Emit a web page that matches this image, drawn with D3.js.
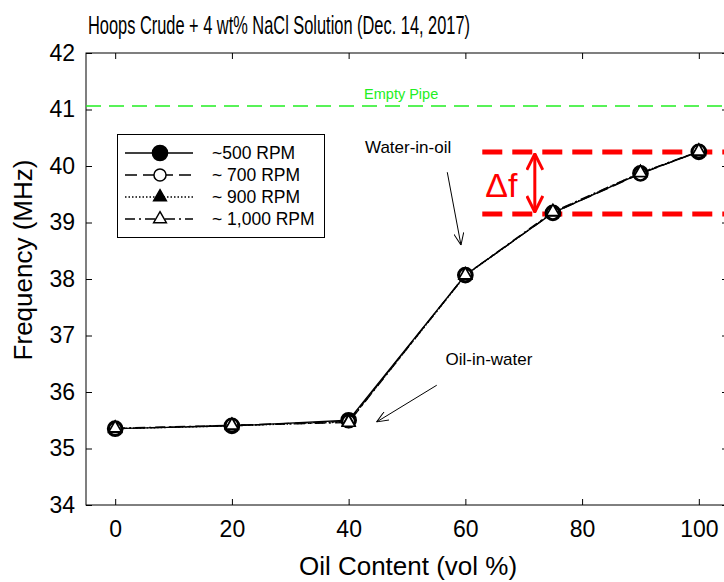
<!DOCTYPE html>
<html>
<head>
<meta charset="utf-8">
<script src="https://cdn.jsdelivr.net/npm/d3@7"></script>
<style>
  body { margin: 0; background: #fff; }
  svg { font-family: Arial, "Liberation Sans", sans-serif; }
</style>
</head>
<body>
<div id="chart"></div>
<script>
// data
const oilContent = [0, 20, 40, 60, 75, 90, 100];
const rpm500 = [35.35, 35.40, 35.50, 38.07, 39.17, 39.87, 40.25];
const rpm700 = [35.35, 35.41, 35.48, 38.07, 39.17, 39.86, 40.26];
const rpm900 = [35.35, 35.40, 35.47, 38.06, 39.18, 39.88, 40.25];
const rpm1000 = [35.36, 35.41, 35.46, 38.07, 39.19, 39.88, 40.26];
const seriesNames = ["~500 RPM", "~ 700 RPM", "~ 900 RPM", "~ 1,000 RPM"];
const xTicks = [0, 20, 40, 60, 80, 100];
const yTicks = [34, 35, 36, 37, 38, 39, 40, 41, 42];
const emptyPipe = 41.06;
const deltaTop = 40.25;
const deltaBottom = 39.15;

const svgWidth = 724, svgHeight = 582;
const margin = { top: 53, right: -4, bottom: 77, left: 86 };
const width = svgWidth - margin.right;
const height = svgHeight - margin.bottom;

const svg = d3.select("#chart")
    .append("svg")
    .attr("width", svgWidth)
    .attr("height", svgHeight);

const defs = svg.append("defs");
defs.append("marker")
    .attr("id", "vhead")
    .attr("viewBox", "0 0 12 10")
    .attr("refX", 12).attr("refY", 5)
    .attr("markerWidth", 12).attr("markerHeight", 10)
    .attr("markerUnits", "userSpaceOnUse")
    .attr("orient", "auto")
    .append("path")
    .attr("d", "M0,0 L12,5 L0,10")
    .attr("fill", "none").attr("stroke", "#000").attr("stroke-width", 1);
defs.append("marker")
    .attr("id", "redhead")
    .attr("viewBox", "0 0 18 18")
    .attr("refX", 17).attr("refY", 9)
    .attr("markerWidth", 18).attr("markerHeight", 18)
    .attr("markerUnits", "userSpaceOnUse")
    .attr("orient", "auto-start-reverse")
    .append("path")
    .attr("d", "M1,1 L17,9 L1,17")
    .attr("fill", "none").attr("stroke", "red").attr("stroke-width", 3);

const x = d3.scaleLinear().domain([-5, 105]).range([margin.left, width]);
const y = d3.scaleLinear().domain([34, 42]).range([height, margin.top]);

// frame
svg.append("rect")
    .attr("x", margin.left).attr("y", margin.top)
    .attr("width", width - margin.left).attr("height", height - margin.top)
    .attr("fill", "none").attr("stroke", "#000").attr("stroke-width", 1);

// axes with inward ticks
const styleAxis = g => {
    g.select(".domain").remove();
    g.selectAll(".tick line").attr("stroke", "#000");
    g.selectAll(".tick text").attr("font-size", 23).attr("fill", "#000")
        .attr("font-family", "Arial, 'Liberation Sans', sans-serif");
};
svg.append("g").attr("transform", `translate(0,${height})`)
    .call(d3.axisBottom(x).tickValues(xTicks).tickSizeInner(-6).tickPadding(16))
    .call(styleAxis);
svg.append("g").attr("transform", `translate(0,${margin.top})`)
    .call(d3.axisTop(x).tickValues(xTicks).tickSizeInner(-6).tickFormat(""))
    .call(styleAxis);
svg.append("g").attr("transform", `translate(${margin.left},0)`)
    .call(d3.axisLeft(y).tickValues(yTicks).tickSizeInner(-6).tickPadding(11))
    .call(styleAxis);
svg.append("g").attr("transform", `translate(${width},0)`)
    .call(d3.axisRight(y).tickValues(yTicks).tickSizeInner(-6).tickFormat(""))
    .call(styleAxis);

// title and axis labels
svg.append("text")
    .attr("x", 88).attr("y", 34)
    .attr("font-size", 25)
    .attr("textLength", 382).attr("lengthAdjust", "spacingAndGlyphs")
    .text("Hoops Crude + 4 wt% NaCl Solution (Dec. 14, 2017)");
svg.append("text")
    .attr("x", 408).attr("y", 575)
    .attr("text-anchor", "middle").attr("font-size", 26)
    .text("Oil Content (vol %)");
svg.append("text")
    .attr("transform", `translate(32,260) rotate(-90)`)
    .attr("text-anchor", "middle").attr("font-size", 26)
    .text("Frequency (MHz)");

// empty pipe reference
svg.append("line")
    .attr("x1", x(-5)).attr("x2", x(105))
    .attr("y1", y(emptyPipe)).attr("y2", y(emptyPipe))
    .attr("stroke", "#22ee22").attr("stroke-width", 1.5)
    .attr("stroke-dasharray", "15,8");
svg.append("text")
    .attr("x", x(49)).attr("y", y(41.19))
    .attr("text-anchor", "middle").attr("font-size", 14.5).attr("fill", "#22ee22")
    .text("Empty Pipe");

// delta f annotation
[deltaTop, deltaBottom].forEach(v => {
    svg.append("line")
        .attr("x1", x(62.9)).attr("x2", x(105))
        .attr("y1", y(v)).attr("y2", y(v))
        .attr("stroke", "red").attr("stroke-width", 5)
        .attr("stroke-dasharray", "20,10");
});
svg.append("line")
    .attr("x1", x(71.9)).attr("x2", x(71.9))
    .attr("y1", y(deltaTop) + 2).attr("y2", y(deltaBottom) - 2)
    .attr("stroke", "red").attr("stroke-width", 3)
    .attr("marker-start", "url(#redhead)")
    .attr("marker-end", "url(#redhead)");
svg.append("text")
    .attr("x", x(63.4)).attr("y", y(39.45))
    .attr("font-size", 34).attr("fill", "red")
    .text("\u0394f");

// regime annotations
svg.append("text")
    .attr("x", x(42.8)).attr("y", y(40.23))
    .attr("font-size", 17).text("Water-in-oil");
svg.append("line")
    .attr("x1", x(56.9)).attr("y1", y(39.89))
    .attr("x2", x(59.25)).attr("y2", y(38.6))
    .attr("stroke", "#000").attr("stroke-width", 1)
    .attr("marker-end", "url(#vhead)");
svg.append("text")
    .attr("x", x(56.6)).attr("y", y(36.48))
    .attr("font-size", 17).text("Oil-in-water");
svg.append("line")
    .attr("x1", x(55.1)).attr("y1", y(36.12))
    .attr("x2", x(44.8)).attr("y2", y(35.47))
    .attr("stroke", "#000").attr("stroke-width", 1)
    .attr("marker-end", "url(#vhead)");

// series
const series = [
    { name: seriesNames[0], values: rpm500, dash: null, shape: d3.symbolCircle, size: 180, fill: "#000" },
    { name: seriesNames[1], values: rpm700, dash: "12,6", shape: d3.symbolCircle, size: 115, fill: "#fff" },
    { name: seriesNames[2], values: rpm900, dash: "1.5,2", shape: d3.symbolTriangle, size: 70, fill: "#000" },
    { name: seriesNames[3], values: rpm1000, dash: "10,4,2,4", shape: d3.symbolTriangle, size: 70, fill: "#fff" }
];

const line = d3.line().x(d => x(d[0])).y(d => y(d[1]));
series.forEach(s => {
    svg.append("path")
        .datum(oilContent.map((c, i) => [c, s.values[i]]))
        .attr("d", line)
        .attr("fill", "none").attr("stroke", "#000").attr("stroke-width", 1.3)
        .attr("stroke-dasharray", s.dash);
});
series.forEach(s => {
    svg.append("g").selectAll("path")
        .data(oilContent.map((c, i) => [c, s.values[i]]))
        .enter().append("path")
        .attr("transform", d => `translate(${x(d[0])},${y(d[1])})`)
        .attr("d", d3.symbol().type(s.shape).size(s.size))
        .attr("fill", s.fill).attr("stroke", "#000").attr("stroke-width", 1.6);
});

// legend
svg.append("rect")
    .attr("x", 117.5).attr("y", 134.5).attr("width", 207).attr("height", 103)
    .attr("fill", "#fff").attr("stroke", "#000").attr("stroke-width", 1);
const legend = svg.append("g")
    .selectAll("g")
    .data(series)
    .enter().append("g")
    .attr("transform", (d, i) => `translate(0,${153 + i * 22})`);
legend.append("line")
    .attr("x1", 125).attr("x2", 193)
    .attr("stroke", "#000").attr("stroke-width", 1.3)
    .attr("stroke-dasharray", d => d.dash);
legend.append("path")
    .attr("transform", "translate(160,0)")
    .attr("d", d => d3.symbol().type(d.shape).size(d.size)())
    .attr("fill", d => d.fill).attr("stroke", "#000").attr("stroke-width", 1.5);
legend.append("text")
    .attr("x", 212).attr("dy", "0.36em")
    .attr("font-size", 17.5)
    .text(d => d.name);
</script>
</body>
</html>
